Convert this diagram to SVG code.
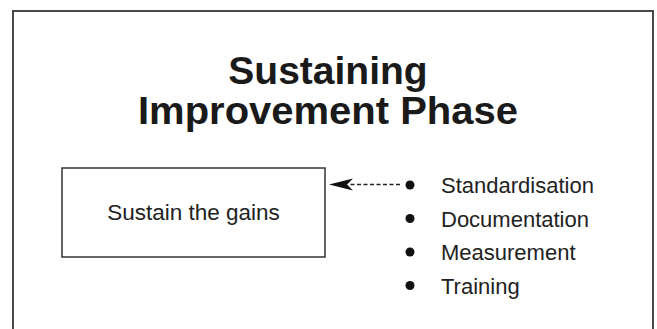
<svg xmlns="http://www.w3.org/2000/svg" width="657" height="329" viewBox="0 0 657 329">
<style>
.frame{fill:none;stroke:#4a4a4a;stroke-width:2}
.title{font-family:"Liberation Sans",Arial,sans-serif;font-weight:bold;font-size:39px;fill:#1a1a1a;text-anchor:middle}
.lbl{font-family:"Liberation Sans",Arial,sans-serif;font-size:22px;fill:#222}
.box{fill:#fff;stroke:#333;stroke-width:1.5}
.dot{fill:#111}
</style>
<path class="frame" d="M13,329 V11 H653 V329"/>
<g id="title">
<text class="title" x="328" y="84">Sustaining</text>
<text class="title" x="328" y="124" textLength="380" lengthAdjust="spacingAndGlyphs">Improvement Phase</text>
</g>
<g id="node-sustain">
<rect class="box" x="62" y="168" width="263" height="89"/>
<text class="lbl" x="193.5" y="220" text-anchor="middle" style="font-size:22.5px">Sustain the gains</text>
</g>
<g id="node-list">
<circle class="dot" cx="410" cy="185" r="4.5"/>
<text class="lbl" x="441" y="193">Standardisation</text>
<circle class="dot" cx="410" cy="218.5" r="4.5"/>
<text class="lbl" x="441" y="226.5">Documentation</text>
<circle class="dot" cx="410" cy="252" r="4.5"/>
<text class="lbl" x="441" y="260">Measurement</text>
<circle class="dot" cx="410" cy="285.5" r="4.5"/>
<text class="lbl" x="441" y="293.5">Training</text>
</g>
<g id="connectors">
<line x1="400" y1="184.5" x2="349" y2="184.5" stroke="#222" stroke-width="1.3" stroke-dasharray="4,2.5"/>
<path d="M329,184.5 L353,178.5 L347,184.5 L353,190.5 Z" fill="#111"/>
</g>
</svg>
